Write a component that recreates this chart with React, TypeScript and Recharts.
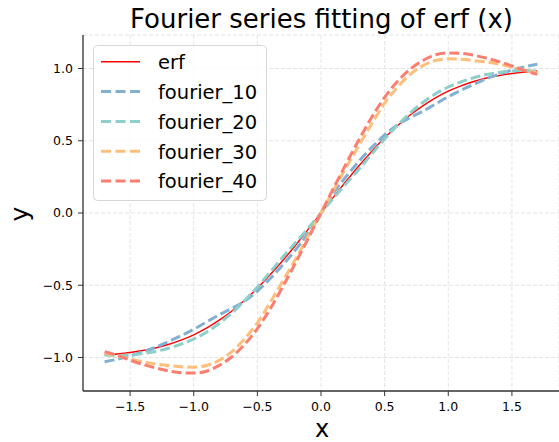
import React from 'react';
import { LineChart, Line, XAxis, YAxis, CartesianGrid } from 'recharts';

const xValues = [
  -1.7, -1.6, -1.5, -1.4, -1.3, -1.2, -1.1, -1.0, -0.9, -0.8, -0.7, -0.6, -0.5, -0.4, -0.3, -0.2, -0.1,
  0,
  0.1, 0.2, 0.3, 0.4, 0.5, 0.6, 0.7, 0.8, 0.9, 1.0, 1.1, 1.2, 1.3, 1.4, 1.5, 1.6, 1.7,
];

const erfValues = [
  -0.984, -0.976, -0.966, -0.952, -0.934, -0.91, -0.88, -0.843, -0.797, -0.742, -0.678, -0.604, -0.52, -0.428, -0.329, -0.223, -0.112,
  0,
  0.112, 0.223, 0.329, 0.428, 0.52, 0.604, 0.678, 0.742, 0.797, 0.843, 0.88, 0.91, 0.934, 0.952, 0.966, 0.976, 0.984,
];

const fourier10 = [
  -1.03, -1.012, -0.99, -0.96, -0.93, -0.89, -0.85, -0.805, -0.755, -0.705, -0.66, -0.61, -0.54, -0.455, -0.36, -0.255, -0.14,
  0,
  0.14, 0.255, 0.36, 0.455, 0.54, 0.61, 0.66, 0.705, 0.755, 0.805, 0.85, 0.89, 0.93, 0.96, 0.99, 1.012, 1.03,
];

const fourier20 = [
  -0.982, -0.986, -0.983, -0.973, -0.958, -0.936, -0.908, -0.872, -0.825, -0.765, -0.692, -0.607, -0.512, -0.41, -0.305, -0.205, -0.105,
  0,
  0.105, 0.205, 0.305, 0.41, 0.512, 0.607, 0.692, 0.765, 0.825, 0.872, 0.908, 0.936, 0.958, 0.973, 0.983, 0.986, 0.982,
];

const fourier30 = [
  -0.97, -0.99, -1.01, -1.03, -1.045, -1.055, -1.065, -1.067, -1.055, -1.02, -0.96, -0.87, -0.76, -0.62, -0.47, -0.32, -0.16,
  0,
  0.16, 0.32, 0.47, 0.62, 0.76, 0.87, 0.96, 1.02, 1.055, 1.067, 1.065, 1.055, 1.045, 1.03, 1.01, 0.99, 0.97,
];

const fourier40 = [
  -0.96, -0.985, -1.018, -1.048, -1.072, -1.092, -1.105, -1.108, -1.095, -1.055, -0.995, -0.91, -0.8, -0.665, -0.51, -0.345, -0.175,
  0,
  0.175, 0.345, 0.51, 0.665, 0.8, 0.91, 0.995, 1.055, 1.095, 1.108, 1.105, 1.092, 1.072, 1.048, 1.018, 0.985, 0.96,
];

const xTicks = [-1.5, -1.0, -0.5, 0, 0.5, 1.0, 1.5];
const yTicks = [-1.0, -0.5, 0, 0.5, 1.0];

const seriesKeys = ['erf', 'fourier_10', 'fourier_20', 'fourier_30', 'fourier_40'];
const seriesColors = ['#ff0000', '#82B0D2', '#8ECFC9', '#FFBE7A', '#FA7F6F'];
const seriesValues = [erfValues, fourier10, fourier20, fourier30, fourier40];

const titleText = 'Fourier series fitting of erf (x)';
const xLabel = 'x';
const yLabel = 'y';

const data = xValues.map((x, i) => {
  const row: Record<string, number> = { x };
  seriesKeys.forEach((k, j) => {
    row[k] = seriesValues[j][i];
  });
  return row;
});

const fmt = (v: number) => {
  const s = Math.abs(v).toFixed(1);
  return v < -1e-9 ? '\u2212' + s : s;
};

const FONT = '"DejaVu Sans", sans-serif';
const axisColor = '#333333';

export default function App() {
  return (
    <div
      style={{
        position: 'absolute',
        left: 0,
        top: 0,
        width: 559,
        height: 442,
        background: '#ffffff',
        fontFamily: FONT,
        overflow: 'hidden',
      }}
    >
      <LineChart width={559} height={442} data={data} margin={{ top: 35, right: 0, bottom: 0, left: 0 }}>
        <CartesianGrid stroke="#e4e4e4" strokeWidth={1} strokeDasharray="4 2" />
        <XAxis
          dataKey="x"
          type="number"
          domain={[-1.87, 1.87]}
          ticks={xTicks}
          tickFormatter={fmt}
          height={51}
          tickSize={5}
          tickMargin={6}
          interval={0}
          allowDataOverflow
          tick={{ fill: '#000', fontSize: 12.5, fontFamily: FONT }}
          axisLine={{ stroke: axisColor, strokeWidth: 1.3 }}
          tickLine={{ stroke: axisColor, strokeWidth: 1 }}
        />
        <XAxis
          xAxisId="top"
          orientation="top"
          type="number"
          dataKey="x"
          domain={[-1.87, 1.87]}
          height={0}
          tick={false}
          tickLine={false}
          allowDataOverflow
          axisLine={{ stroke: axisColor, strokeWidth: 1.3 }}
        />
        <YAxis
          type="number"
          domain={[-1.232, 1.232]}
          ticks={yTicks}
          tickFormatter={fmt}
          width={83}
          tickSize={5}
          tickMargin={5}
          interval={0}
          allowDataOverflow
          tick={{ fill: '#000', fontSize: 12.5, fontFamily: FONT }}
          axisLine={{ stroke: axisColor, strokeWidth: 1.3 }}
          tickLine={{ stroke: axisColor, strokeWidth: 1 }}
        />
        {seriesKeys.map((k, j) => (
          <Line
            key={k}
            dataKey={k}
            type="monotone"
            stroke={seriesColors[j]}
            strokeWidth={j === 0 ? 1.4 : 3}
            strokeDasharray={j === 0 ? undefined : '10 4'}
            dot={false}
            activeDot={false}
            isAnimationActive={false}
          />
        ))}
      </LineChart>
      <svg
        width={559}
        height={442}
        style={{ position: 'absolute', left: 0, top: 0, pointerEvents: 'none' }}
      >
        <text x={321.5} y={27.5} textAnchor="middle" fontSize={26} fontFamily={FONT} fill="#000">
          {titleText}
        </text>
        <text x={322} y={436.5} textAnchor="middle" fontSize={24} fontFamily={FONT} fill="#000">
          {xLabel}
        </text>
        <text
          x={28}
          y={214}
          textAnchor="middle"
          fontSize={25}
          fontFamily={FONT}
          fill="#000"
          transform="rotate(-90, 28, 214)"
        >
          {yLabel}
        </text>
        <rect x={93.5} y={45.5} width={173} height={155} rx={4} ry={4} fill="#ffffff" fillOpacity={0.8} stroke="#d6d6d6" strokeWidth={1} />
        {seriesKeys.map((k, j) => {
          const cy = 61.7 + j * 29.85;
          return (
            <g key={k}>
              <line
                x1={101}
                x2={140}
                y1={cy}
                y2={cy}
                stroke={seriesColors[j]}
                strokeWidth={j === 0 ? 1.4 : 3}
                strokeDasharray={j === 0 ? undefined : '10 4.5'}
              />
              <text x={158} y={cy + 7.3} fontSize={19.5} fontFamily={FONT} fill="#000">
                {k}
              </text>
            </g>
          );
        })}
      </svg>
    </div>
  );
}
